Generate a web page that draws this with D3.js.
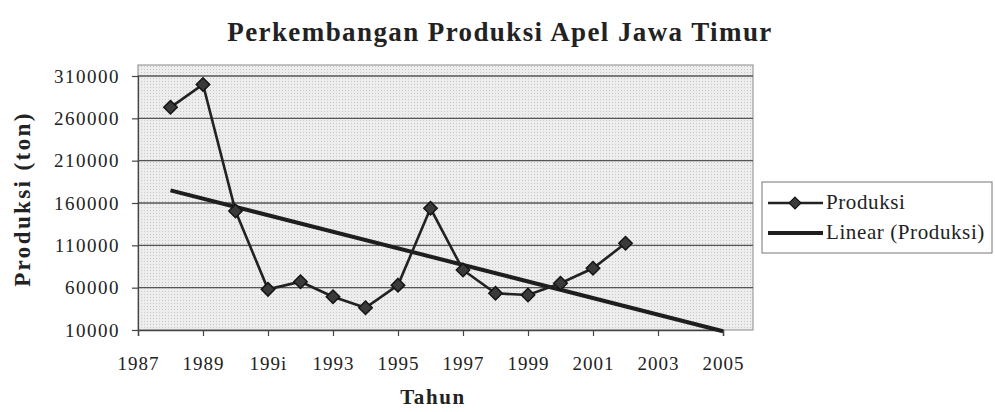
<!DOCTYPE html>
<html>
<head>
<meta charset="utf-8">
<script src="https://cdn.jsdelivr.net/npm/d3@7"></script>
<style>
  body { margin: 0; background: #fff; }
  svg { display: block; font-family: "Liberation Serif", "DejaVu Serif", serif; }
</style>
</head>
<body>
<div id="wrapper"></div>
<script>
// data
var years = [1988, 1989, 1990, 1991, 1992, 1993, 1994, 1995, 1996, 1997, 1998, 1999, 2000, 2001, 2002];
var produksi = [273000, 300000, 150500, 58000, 67000, 49300, 36300, 63000, 153700, 80900, 53300, 51300, 65200, 82900, 112400];
var yTicks = [10000, 60000, 110000, 160000, 210000, 260000, 310000];
var xTicks = [1987, 1989, 1991, 1993, 1995, 1997, 1999, 2001, 2003, 2005];
var xTickLabels = ["1987", "1989", "199i", "1993", "1995", "1997", "1999", "2001", "2003", "2005"];
var trendEnd = 2005; // forecast forward to 2005

var width = 995, height = 412;

var svg = d3.select("#wrapper").append("svg")
    .attr("width", width)
    .attr("height", height);

// scales
var x = d3.scaleLinear().domain([1987, 2005]).range([138, 723]);
var y = d3.scaleLinear().domain([10000, 310000]).range([330, 76]);

// plot area (extends a bit past the last tick like the original)
var plotLeft = 138, plotRight = 753, plotTop = 65, plotBottom = 330;

var defs = svg.append("defs");
var pat = defs.append("pattern")
    .attr("id", "dots")
    .attr("width", 3).attr("height", 3)
    .attr("patternUnits", "userSpaceOnUse");
pat.append("rect").attr("width", 3).attr("height", 3).attr("fill", "#ededed");
pat.append("rect").attr("width", 1).attr("height", 1).attr("fill", "#c8c8c8");

svg.append("rect")
    .attr("x", plotLeft).attr("y", plotTop)
    .attr("width", plotRight - plotLeft).attr("height", plotBottom - plotTop)
    .attr("fill", "url(#dots)")
    .attr("stroke", "#8a8a8a")
    .attr("stroke-width", 1);

// gridlines
svg.append("g").selectAll("line")
    .data(yTicks.slice(1))
    .enter().append("line")
    .attr("x1", plotLeft).attr("x2", plotRight)
    .attr("y1", function(d) { return y(d); })
    .attr("y2", function(d) { return y(d); })
    .attr("stroke", "#555")
    .attr("stroke-width", 1.4);

// y axis
var yAxis = d3.axisLeft(y).tickValues(yTicks).tickSize(6).tickPadding(12).tickFormat(d3.format("d"));
var gy = svg.append("g").attr("transform", "translate(" + plotLeft + ",0)").call(yAxis);
gy.select(".domain").attr("stroke", "#444").attr("stroke-width", 1.2);
gy.selectAll(".tick line").attr("stroke", "#444").attr("stroke-width", 1.2);
gy.selectAll(".tick text")
    .attr("font-family", "Liberation Serif, serif")
    .attr("font-size", 19)
    .attr("letter-spacing", 1.5)
    .attr("fill", "#222");

// x axis
var xAxis = d3.axisBottom(x).tickValues(xTicks).tickSize(6).tickPadding(21)
    .tickFormat(function(d, i) { return xTickLabels[i]; });
var gx = svg.append("g").attr("transform", "translate(0," + plotBottom + ")").call(xAxis);
gx.select(".domain").attr("stroke", "#444").attr("stroke-width", 1.4);
gx.selectAll(".tick line").attr("stroke", "#444").attr("stroke-width", 1.2);
gx.selectAll(".tick text")
    .attr("font-family", "Liberation Serif, serif")
    .attr("font-size", 19)
    .attr("letter-spacing", 1)
    .attr("fill", "#222");

// linear trend (least squares, like the spreadsheet trendline)
var mx = d3.mean(years), my = d3.mean(produksi);
var sxy = d3.sum(years, function(d, i) { return (d - mx) * (produksi[i] - my); });
var sxx = d3.sum(years, function(d) { return (d - mx) * (d - mx); });
var slope = sxy / sxx, icpt = my - slope * mx;
var trendPts = [years[0], trendEnd].map(function(t) { return [t, icpt + slope * t]; });

svg.append("path")
    .datum(trendPts)
    .attr("fill", "none")
    .attr("stroke", "#1e1e1e")
    .attr("stroke-width", 4)
    .attr("d", d3.line().x(function(d) { return x(d[0]); }).y(function(d) { return y(d[1]); }));

// series
var pts = years.map(function(d, i) { return [d, produksi[i]]; });
svg.append("path")
    .datum(pts)
    .attr("fill", "none")
    .attr("stroke", "#222")
    .attr("stroke-width", 2.6)
    .attr("d", d3.line().x(function(d) { return x(d[0]); }).y(function(d) { return y(d[1]); }));

var diamond = d3.symbol().type(d3.symbolDiamond2).size(115);
svg.append("g").selectAll("path")
    .data(pts)
    .enter().append("path")
    .attr("d", diamond)
    .attr("transform", function(d) { return "translate(" + x(d[0]) + "," + y(d[1]) + ")"; })
    .attr("fill", "#3a3a3a")
    .attr("stroke", "#151515")
    .attr("stroke-width", 1.5);

// titles
svg.append("text")
    .attr("x", 500).attr("y", 41)
    .attr("text-anchor", "middle")
    .attr("font-family", "Liberation Serif, serif")
    .attr("font-weight", "bold")
    .attr("font-size", 27)
    .attr("letter-spacing", 1.4)
    .attr("fill", "#222")
    .text("Perkembangan Produksi Apel Jawa Timur");

svg.append("text")
    .attr("transform", "translate(30,199) rotate(-90)")
    .attr("text-anchor", "middle")
    .attr("font-family", "Liberation Serif, serif")
    .attr("font-weight", "bold")
    .attr("font-size", 23)
    .attr("letter-spacing", 2.4)
    .attr("fill", "#222")
    .text("Produksi (ton)");

svg.append("text")
    .attr("x", 433).attr("y", 404)
    .attr("text-anchor", "middle")
    .attr("font-family", "Liberation Serif, serif")
    .attr("font-weight", "bold")
    .attr("font-size", 21)
    .attr("letter-spacing", 1.6)
    .attr("fill", "#222")
    .text("Tahun");

// legend
var lg = svg.append("g").attr("transform", "translate(762,182)");
lg.append("rect")
    .attr("width", 230).attr("height", 71)
    .attr("fill", "#fff")
    .attr("stroke", "#777")
    .attr("stroke-width", 1);
lg.append("line")
    .attr("x1", 6).attr("x2", 61).attr("y1", 21).attr("y2", 21)
    .attr("stroke", "#222").attr("stroke-width", 2.6);
lg.append("path")
    .attr("d", d3.symbol().type(d3.symbolDiamond2).size(90))
    .attr("transform", "translate(33,21)")
    .attr("fill", "#3a3a3a").attr("stroke", "#151515").attr("stroke-width", 1.2);
lg.append("line")
    .attr("x1", 6).attr("x2", 61).attr("y1", 51).attr("y2", 51)
    .attr("stroke", "#1e1e1e").attr("stroke-width", 4);
var legendNames = ["Produksi", "Linear (Produksi)"];
lg.selectAll("text.lab")
    .data(legendNames)
    .enter().append("text")
    .attr("class", "lab")
    .attr("x", 64)
    .attr("y", function(d, i) { return 27 + i * 30; })
    .attr("font-family", "Liberation Serif, serif")
    .attr("font-size", 21)
    .attr("letter-spacing", 0.6)
    .attr("fill", "#222")
    .text(function(d) { return d; });
</script>
</body>
</html>
